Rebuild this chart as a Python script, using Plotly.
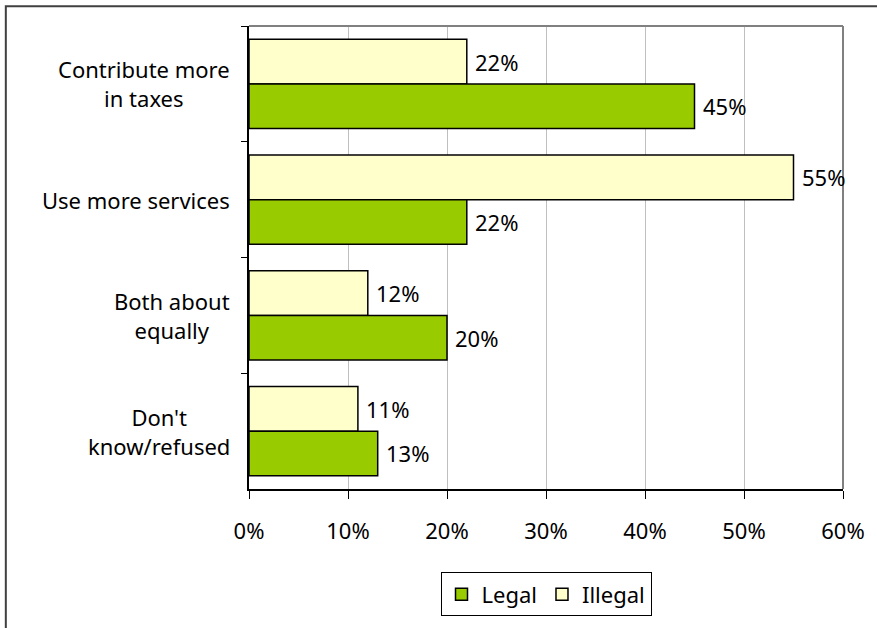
import plotly.graph_objects as go

categories = ["Contribute more<br>in taxes", "Use more services", "Both about<br>equally", "Don't<br>know/refused"]
legal = [45, 22, 20, 13]
illegal = [22, 55, 12, 11]
x_ticks = [0, 10, 20, 30, 40, 50, 60]
x_tick_labels = [f"{v}%" for v in x_ticks]

FONT = "Noto Sans"
FS = 22
W, H = 877, 628
L, R, T, B = 249, 32, 26, 136
pw, ph = W - L - R, H - T - B
BARGAP = 0.23

fig = go.Figure()
fig.add_trace(go.Bar(
    y=categories, x=illegal, orientation="h", name="Illegal",
    marker=dict(color="#FFFFCC", line=dict(color="#000000", width=1.5)),
    legendrank=2,
))
fig.add_trace(go.Bar(
    y=categories, x=legal, orientation="h", name="Legal",
    marker=dict(color="#99CC00", line=dict(color="#000000", width=1.5)),
    legendrank=1,
))

# value labels just past each bar end
half = (1 - BARGAP) / 4
for i, (lv, iv) in enumerate(zip(legal, illegal)):
    for val, off in ((iv, -half), (lv, half)):
        fig.add_annotation(
            x=val, xref="x", y=i + off, yref="y", text=f"{val}%", showarrow=False,
            xanchor="left", xshift=6, font=dict(family=FONT, size=FS, color="#000"),
        )

# centered multi-line category labels
for c in categories:
    fig.add_annotation(
        x=0, xref="paper", y=c, yref="y", text=c, showarrow=False,
        xanchor="right", align="center", xshift=-17,
        font=dict(family=FONT, size=FS, color="#000"),
    )

def px_x(p):
    return (p - L) / pw

def px_y(p):
    return 1 - (p - T) / ph

# outer chart border
fig.add_shape(type="rect", xref="paper", yref="paper",
              x0=px_x(5), x1=px_x(W + 10), y0=px_y(H + 10), y1=px_y(6),
              line=dict(color="#404040", width=2), fillcolor="rgba(0,0,0,0)")
# gray top and right plot-area border
fig.add_shape(type="line", xref="paper", yref="paper", x0=0, x1=1, y0=1, y1=1,
              line=dict(color="#808080", width=2))
fig.add_shape(type="line", xref="paper", yref="paper", x0=1, x1=1, y0=0, y1=1,
              line=dict(color="#808080", width=2))

fig.update_layout(
    width=W, height=H,
    margin=dict(l=L, r=R, t=T, b=B),
    paper_bgcolor="white", plot_bgcolor="white",
    barmode="group", bargap=BARGAP, bargroupgap=0,
    font=dict(family=FONT, size=FS, color="#000"),
    showlegend=True,
    legend=dict(orientation="h", x=0.5, xanchor="center", y=px_y(576), yanchor="top",
                bordercolor="#000", borderwidth=1, font=dict(family=FONT, size=FS),
                itemwidth=30, tracegroupgap=0),
    xaxis=dict(range=[0, 60], tickvals=x_ticks, ticktext=x_tick_labels,
               showgrid=True, gridcolor="#BFBFBF", gridwidth=1,
               showline=True, linecolor="#000", linewidth=1.5,
               ticks="outside", ticklen=8, tickcolor="#000", ticklabelstandoff=14,
               tickfont=dict(family=FONT, size=FS), zeroline=False),
    yaxis=dict(autorange="reversed", showticklabels=False,
               showline=True, linecolor="#000", linewidth=1.5,
               ticks="outside", ticklen=6, tickcolor="#000", tickson="boundaries",
               showgrid=False),
)

fig.write_html("out.html")
